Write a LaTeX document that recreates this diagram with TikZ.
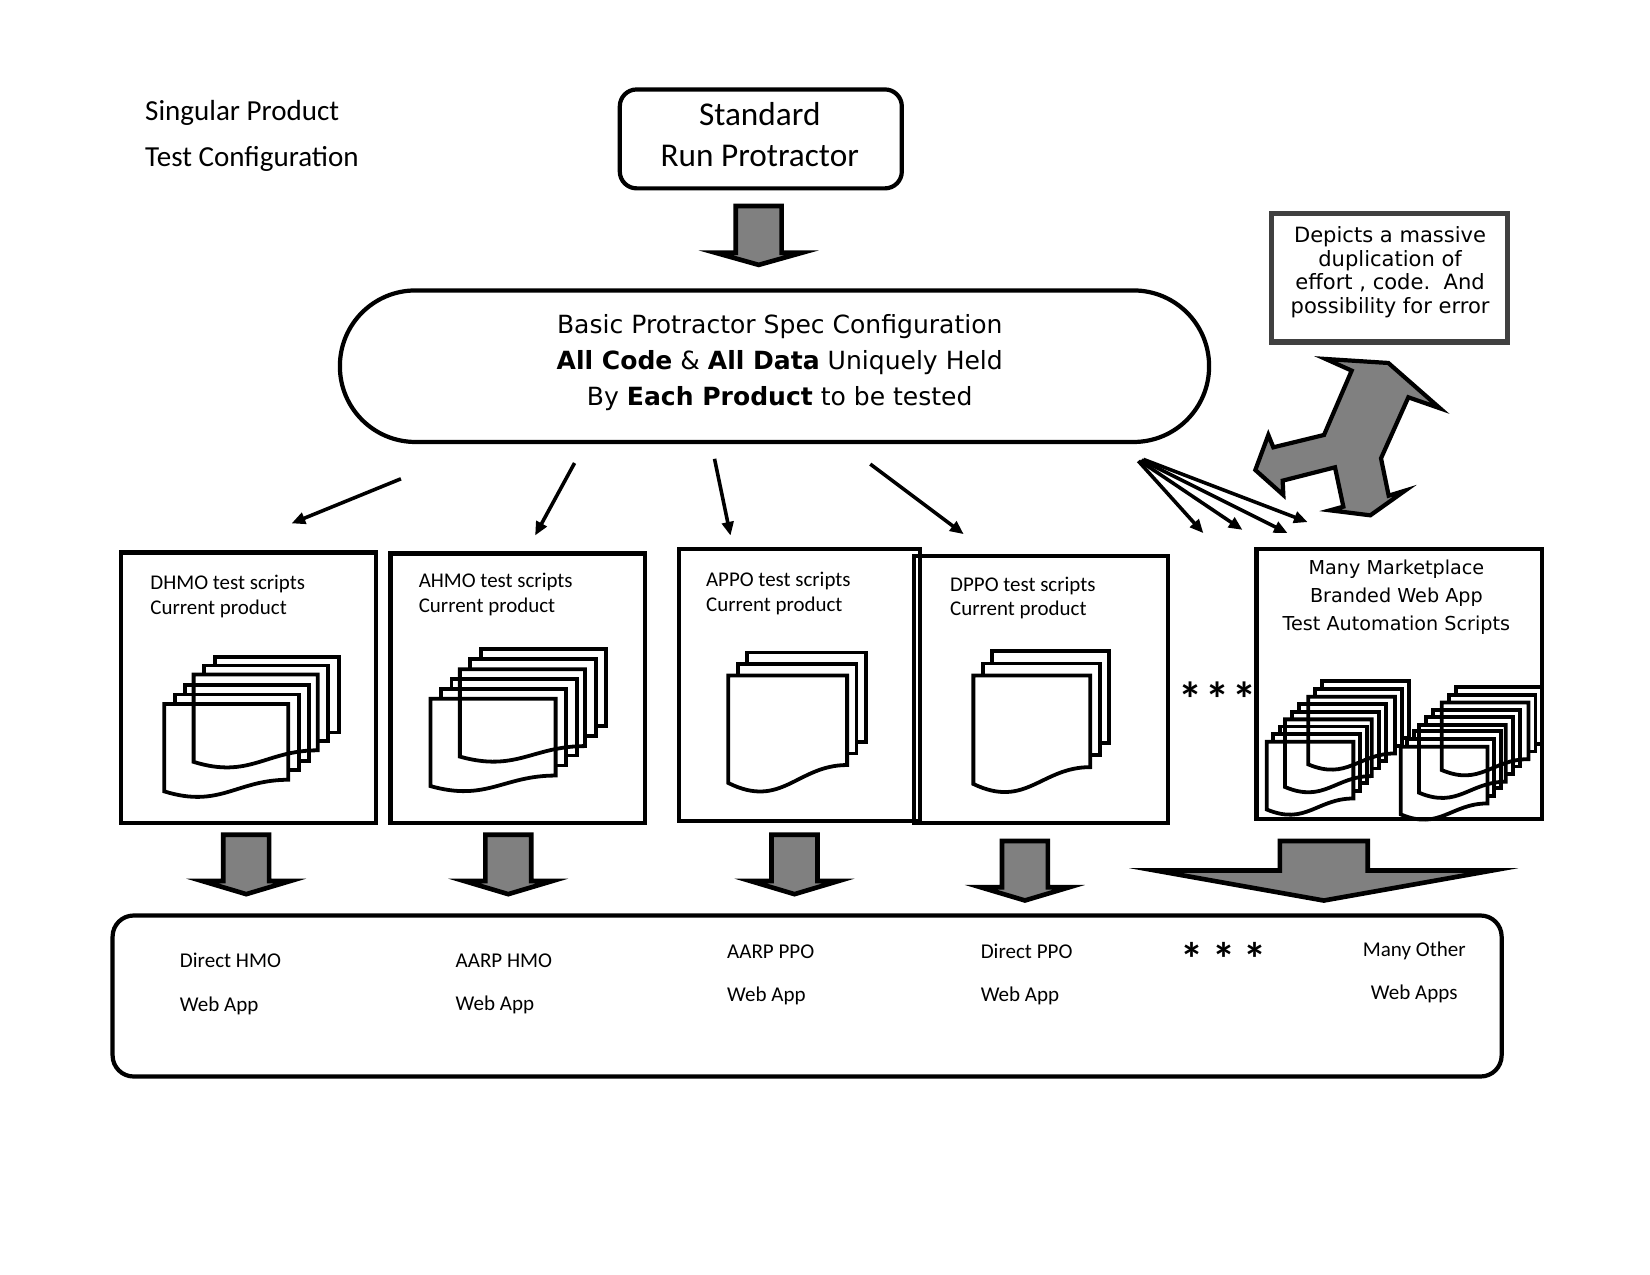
\documentclass[tikz,border=0pt]{standalone}
\usepackage{fontspec}
\setmainfont{Carlito}
\newfontfamily\verd{DejaVu Sans}
\usetikzlibrary{arrows.meta}
\tikzset{
  frame/.style={draw=black,line width=2pt,inner sep=0pt,outer sep=0pt},
  txt/.style={inner sep=0pt,outer sep=0pt,text=black},
  thin arrow/.style={line width=1.7pt,-{Triangle[length=6.5pt,width=5.5pt]},shorten >=-0.5pt},
  sheet/.style={draw=black,line width=1.8pt,line join=miter},
  block/.style={draw=black,fill=blockgray,line width=2.2pt,line join=miter,miter limit=40}
}
\definecolor{blockgray}{HTML}{808080}
\definecolor{notegray}{HTML}{404040}
\newcommand\bx[6]{\node[frame,#2,minimum width={(#5-#3)*0.5pt},minimum height={(#6-#4)*0.5pt}] (#1) at ({(#3+#5)/2},{(#4+#6)/2}) {};}
% block arrow: centre, top, shaft half width, base y, head half width, tip y (outer silhouette)
\newcommand\blockarrow[6]{%
  \pgfmathsetmacro\bw{2.2}%
  \pgfmathsetmacro\sh{#3-\bw}%
  \pgfmathsetmacro\tp{#2+\bw}%
  \pgfmathsetmacro\bs{#4+\bw}%
  \pgfmathsetmacro\tq{#6-\bw/sin(atan(#5/(#6-#4)))}%
  \pgfmathsetmacro\hc{(\tq-\bs)*#5/(#6-#4)}%
  \draw[block] ({#1-\sh},\tp) -- ({#1+\sh},\tp) -- ({#1+\sh},\bs) -- ({#1+\hc},\bs) -- (#1,\tq) -- ({#1-\hc},\bs) -- ({#1-\sh},\bs) -- cycle;}
% document outline: x,y,W,Hr,Hl
\newcommand\onedoc[5]{(#1,#2) -- ({#1+#3},#2) -- ({#1+#3},{#2+#4}) .. controls ({#1+#3*0.58},{#2+#4}) and ({#1+#3*0.45},{#2+#4+(#5-#4)*2.5}) .. (#1,{#2+#5}) -- cycle}
% three-sheet stack: x,y,W,Hr,Hl,dx,dy
\newcommand\docstack[7]{%
  \draw[sheet] \onedoc{#1}{#2}{#3}{#4}{#5};
  \draw[sheet] ({#1+#6},#2) -- ({#1+#6},{#2-#7}) -- ({#1+#3+#6},{#2-#7}) -- ({#1+#3+#6},{#2+#4-#7}) -- ({#1+#3},{#2+#4-#7});
  \draw[sheet] ({#1+2*#6},{#2-#7}) -- ({#1+2*#6},{#2-2*#7}) -- ({#1+#3+2*#6},{#2-2*#7}) -- ({#1+#3+2*#6},{#2+#4-2*#7}) -- ({#1+#3+#6},{#2+#4-2*#7});}
\begin{document}
\begin{tikzpicture}[x=0.5pt,y=-0.5pt]
\useasboundingbox (0,0) rectangle (1568,1211.6);
% top text
\node[txt,anchor=west,align=left,font={\fontsize{13.8pt}{22pt}\selectfont}] (title) at (138,129) {Singular Product\\Test Configuration};
\bx{std}{rounded corners=8pt}{589}{85}{857}{179}
\node[txt,align=center,font={\fontsize{15.8pt}{19.6pt}\selectfont}] (stdtxt) at (722,128) {Standard\\Run Protractor};
\blockarrow{721}{193.5}{24}{238}{57}{254}
% pill
\bx{pill}{rounded corners=35.9pt}{323}{276}{1149}{420}
\node[txt,align=center,font={\verd\fontsize{11.9pt}{17.2pt}\selectfont}] (pilltxt) at (741,344.3) {Basic Protractor Spec Configuration\\\textbf{All Code} \& \textbf{All Data} Uniquely Held\\By \textbf{Each Product} to be tested};
% note
\bx{note}{draw=notegray,line width=2.4pt}{1208}{203}{1433}{325}
\node[txt,align=center,font={\verd\fontsize{10pt}{11.2pt}\selectfont}] (notetxt) at (1321,258.5) {Depicts a massive\\duplication of\\effort , code.\ \ And\\possibility for error};
% Y arrow
\begin{scope}[x=0.1584pt,y=-0.1584pt,shift={(522.65pt,-85.5pt)}]
\draw[block,line width=2pt] (677,537) -- (865,549) -- (1020,685) -- (925,652) -- (843,835) -- (866,947) -- (915,932) -- (811,1006) -- (690,991) -- (730,980) -- (705,862) -- (548,902) -- (550,945) -- (466,870) -- (505,765) -- (520,802) -- (672,765) -- (755,572) -- cycle;
\end{scope}
% thin arrows
\coordinate (f1s) at (381,455); \coordinate (f1e) at (278,497);
\coordinate (f2s) at (546,440); \coordinate (f2e) at (509,508);
\coordinate (f3s) at (679,436); \coordinate (f3e) at (694,508);
\coordinate (f4s) at (827,441); \coordinate (f4e) at (915,507);
\coordinate (g1s) at (1081.7,438.1); \coordinate (g1e) at (1142.9,505.9);
\coordinate (g2s) at (1083.3,438); \coordinate (g2e) at (1179.9,503);
\coordinate (g3s) at (1084.9,437.2); \coordinate (g3e) at (1222.7,506.2);
\coordinate (g4s) at (1086.5,436.5); \coordinate (g4e) at (1241.7,495.8);
\foreach \n in {f1,f2,f3,f4,g1,g2,g3,g4} \draw[thin arrow] (\n s) -- (\n e);
% script boxes
\bx{dhmo}{}{115}{525}{357}{782}
\bx{ahmo}{}{371}{526}{613}{782}
\bx{appo}{}{645}{522}{874.5}{780}
\bx{dppo}{}{868.5}{528}{1110}{782}
\bx{many}{}{1194}{522}{1465}{778}
\node[txt,anchor=west,align=left,font={\fontsize{9.95pt}{11.6pt}\selectfont}] (dhmotxt) at (143,567) {DHMO test scripts\\Current product};
\node[txt,anchor=west,align=left,font={\fontsize{9.95pt}{11.6pt}\selectfont}] (ahmotxt) at (398,565) {AHMO test scripts\\Current product};
\node[txt,anchor=west,align=left,font={\fontsize{9.95pt}{11.6pt}\selectfont}] (appotxt) at (671,564) {APPO test scripts\\Current product};
\node[txt,anchor=west,align=left,font={\fontsize{9.95pt}{11.6pt}\selectfont}] (dppotxt) at (903,568) {DPPO test scripts\\Current product};
\node[txt,align=center,font={\verd\fontsize{9.12pt}{13.3pt}\selectfont}] (manytxt) at (1327,567.5) {Many Marketplace\\Branded Web App\\Test Automation Scripts};
% sheets
\docstack{156}{669}{118}{72}{83}{10}{9}
\docstack{184}{641}{118}{72}{83}{10}{8.5}
\docstack{409}{664}{119}{73}{83}{10}{9.5}
\docstack{437}{636}{119}{73}{83}{10}{9.5}
\docstack{692}{642}{113}{85}{102}{9}{11}
\docstack{925}{642}{111}{87}{103}{9}{11.5}
\docstack{1203.7}{704.9}{82.4}{53.9}{64.3}{6.3}{7.3}
\docstack{1221.2}{683.6}{82.4}{53.9}{64.3}{6.6}{7.3}
\docstack{1243.3}{662.1}{82.4}{53.9}{64.3}{6.6}{7.3}
\docstack{1331.1}{709.6}{82.4}{53.9}{64.3}{6.3}{7.3}
\docstack{1348.5}{689}{82.4}{53.9}{64.3}{6.6}{7.3}
\docstack{1370.1}{667.5}{82.4}{53.9}{64.3}{6.6}{7.3}
% stars
\node[txt,font={\bfseries\fontsize{23pt}{23pt}\selectfont}] (stars1) at (1157,664) {*\hspace{1.5pt}*\hspace{1.5pt}*};
\node[txt,font={\bfseries\fontsize{22pt}{22pt}\selectfont}] (stars2) at (1163,911.5) {*\hspace{4pt}*\hspace{4pt}*};
% down arrows
\blockarrow{234}{791}{24}{835}{57}{852}
\blockarrow{483}{791}{24}{835}{57}{852}
\blockarrow{755}{791}{24}{835}{57}{852}
\blockarrow{974}{797}{24}{841}{57}{858}
\blockarrow{1258}{797}{44}{825}{185}{858}
% bottom
\bx{apps}{rounded corners=10pt}{107}{870}{1427}{1023}
\node[txt,anchor=west,align=left,font={\fontsize{10pt}{20.5pt}\selectfont}] (b1) at (171,935) {Direct HMO\\Web App};
\node[txt,anchor=west,align=left,font={\fontsize{10pt}{20.5pt}\selectfont}] (b2) at (433,935) {AARP HMO\\Web App};
\node[txt,anchor=west,align=left,font={\fontsize{10pt}{20.5pt}\selectfont}] (b3) at (691,926) {AARP PPO\\Web App};
\node[txt,anchor=west,align=left,font={\fontsize{10pt}{20.5pt}\selectfont}] (b4) at (932,926) {Direct PPO\\Web App};
\node[txt,align=center,font={\fontsize{10pt}{20.5pt}\selectfont}] (b5) at (1344,924) {Many Other\\Web Apps};
\end{tikzpicture}
\end{document}
